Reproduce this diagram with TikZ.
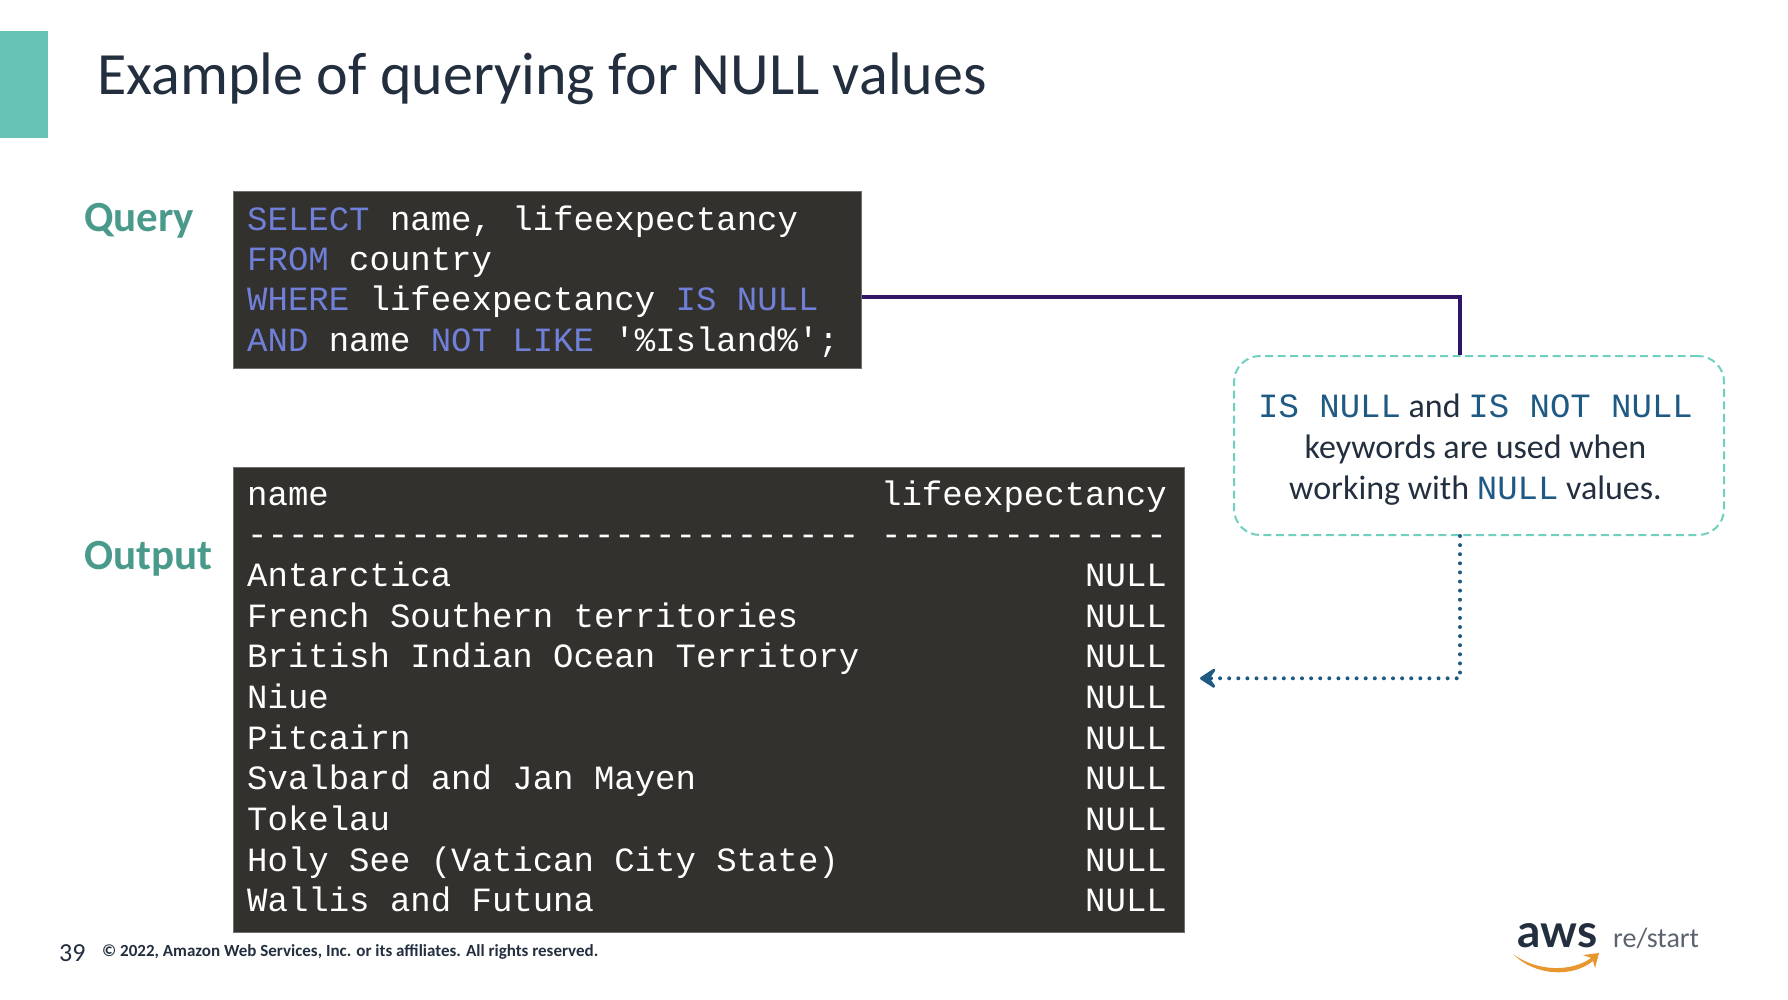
\documentclass[tikz,border=0pt]{standalone}
\usepackage{fontspec}
\setmainfont{Carlito}
\newfontfamily\codefont{Liberation Mono}
\newfontfamily\logofont{Lato}
\usetikzlibrary{positioning, calc, arrows.meta}
\definecolor{slateink}{HTML}{232F3E}
\definecolor{tealbar}{HTML}{66C2B4}
\definecolor{tealhead}{HTML}{4A9A8C}
\definecolor{tealedge}{HTML}{70D0C0}
\definecolor{codebg}{HTML}{33312D}
\definecolor{keyword}{HTML}{7080D8}
\definecolor{violetline}{HTML}{2F1468}
\definecolor{blueink}{HTML}{1F5A85}
\definecolor{orangesmile}{HTML}{E8962E}
\newcommand{\kw}[1]{\textcolor{keyword}{#1}}
\newcommand{\kwnote}[1]{\textcolor{blueink}{{\codefont\fontsize{34}{41}\selectfont #1}}}
\tikzstyle{QueryLink} = [
%Solid link from the query box:
line width = 4.5pt, violetline
]
\tikzstyle{NoteLink} = [
%Dotted link back to the table:
line width = 4pt, blueink, line cap = round, dash pattern = on 0pt off 9.1pt,
-{Stealth[length = 20pt, width = 26pt, inset = 9pt, round]}
]
\begin{document}
\begin{tikzpicture}[
		x = 1pt, y = -1pt,
		codebox/.style = {rectangle, fill = codebg, draw = codebg!70!white, line width = 0.8pt, inner sep = 0pt},
		codeline/.style = {anchor = base west, inner sep = 0pt, text = white, font = \codefont\fontsize{34}{41}\selectfont},
		nullcell/.style = {anchor = base east, inner sep = 0pt, text = white, font = \codefont\fontsize{34}{41}\selectfont},
		heading/.style = {anchor = base west, inner sep = 0pt, text = tealhead, font = \bfseries\fontsize{43}{50}\selectfont},
		callout/.style = {rectangle, rounded corners = 26pt, draw = tealedge, line width = 2pt, dash pattern = on 8pt off 4.5pt, inner sep = 0pt, minimum width = 490pt, minimum height = 179pt},
		notetext/.style = {align = center, text = slateink, inner sep = 0pt, font = \fontsize{34}{41}\selectfont},
	]
	\useasboundingbox (0,0) rectangle (1788,1000);
	\node[fill = tealbar, minimum width = 48pt, minimum height = 107pt, inner sep = 0pt] (bar) at (24,84.5) {};
	\node[anchor = base west, inner sep = 0pt, text = slateink, font = \fontsize{60}{70}\selectfont] (title) at (97,95) {Example of querying for NULL values};

	\node[heading] (queryhead) at (84,231.5) {Query};
	\node[heading] (outputhead) at (84,569.5) {Output};

	\node[codebox, minimum width = 628pt, minimum height = 177pt] (querybox) at (547.5,279.5) {};
	\node[codeline] (sel) at (247,230.5) {\kw{SELECT} name, lifeexpectancy};
	\node[codeline] (frm) at (247,270.5) {\kw{FROM} country};
	\node[codeline] (whr) at (247,311) {\kw{WHERE} lifeexpectancy \kw{IS NULL}};
	\node[codeline] (nd) at (247,351.5) {\kw{AND} name \kw{NOT LIKE} '\%Island\%';};

	\node[codebox, minimum width = 951pt, minimum height = 464.5pt] (outputbox) at (709,699.7) {};
	\node[codeline] (hdname) at (247,505) {name};
	\node[nullcell] (hdlife) at (1167,505) {lifeexpectancy};
	\node[codeline] (rule) at (247,545.7) {{-}{-}{-}{-}{-}{-}{-}{-}{-}{-}{-}{-}{-}{-}{-}{-}{-}{-}{-}{-}{-}{-}{-}{-}{-}{-}{-}{-}{-}{-}};
	\node[nullcell] (rulelife) at (1167,545.7) {{-}{-}{-}{-}{-}{-}{-}{-}{-}{-}{-}{-}{-}{-}};
	\node[codeline] (rowa) at (247,586.3) {Antarctica};
	\node[nullcell] (nulla) at (1167,586.3) {NULL};
	\node[codeline] (rowb) at (247,627) {French Southern territories};
	\node[nullcell] (nullb) at (1167,627) {NULL};
	\node[codeline] (rowc) at (247,667.7) {British Indian Ocean Territory};
	\node[nullcell] (nullc) at (1167,667.7) {NULL};
	\node[codeline] (rowd) at (247,708.3) {Niue};
	\node[nullcell] (nulld) at (1167,708.3) {NULL};
	\node[codeline] (rowe) at (247,749) {Pitcairn};
	\node[nullcell] (nulle) at (1167,749) {NULL};
	\node[codeline] (rowf) at (247,789.7) {Svalbard and Jan Mayen};
	\node[nullcell] (nullf) at (1167,789.7) {NULL};
	\node[codeline] (rowg) at (247,830.3) {Tokelau};
	\node[nullcell] (nullg) at (1167,830.3) {NULL};
	\node[codeline] (rowh) at (247,871) {Holy See (Vatican City State)};
	\node[nullcell] (nullh) at (1167,871) {NULL};
	\node[codeline] (rowi) at (247,911.7) {Wallis and Futuna};
	\node[nullcell] (nulli) at (1167,911.7) {NULL};

	\node[callout] (note) at (1479,445.5) {};
	\node[notetext] (notebody) at (1475.5,449.5) {\kwnote{IS NULL} and \kwnote{IS NOT NULL}\\keywords are used when\\working with \kwnote{NULL} values.};

	\coordinate (topbend) at (1460,297);
	\coordinate (lowbend) at (1460,678.3);
	\coordinate (tipend) at (1200,678.3);
	\draw[QueryLink] (querybox.east |- topbend) -- (topbend) -- (topbend |- note.north);
	\draw[NoteLink] (lowbend |- note.south) -- (lowbend) -- (tipend);

	\node[anchor = base west, inner sep = 0pt, text = slateink, font = \fontsize{26}{32}\selectfont] (pagenum) at (59,961) {39};
	\node[anchor = base west, inner sep = 0pt, text = slateink, font = \bfseries\fontsize{17}{20}\selectfont] (rights) at (102,956) {© 2022, Amazon Web Services, Inc. or its affiliates. All rights reserved.};

	\node[anchor = base west, inner sep = 0pt, text = slateink, font = \logofont\bfseries\fontsize{46}{50}\selectfont] (awsmark) at (1517,947) {aws};
	\node[anchor = base west, inner sep = 0pt, text = slateink!75!white, font = \fontsize{28}{36}\selectfont] (restart) at (1613,947) {re/start};
	\fill[orangesmile] (1513,954) .. controls (1537,972) and (1572,972) .. (1591,958) -- (1583,955) -- (1599,953) -- (1595,968) -- (1593,961) .. controls (1572,978) and (1535,976) .. (1513,954) -- cycle;
\end{tikzpicture}
\end{document}
